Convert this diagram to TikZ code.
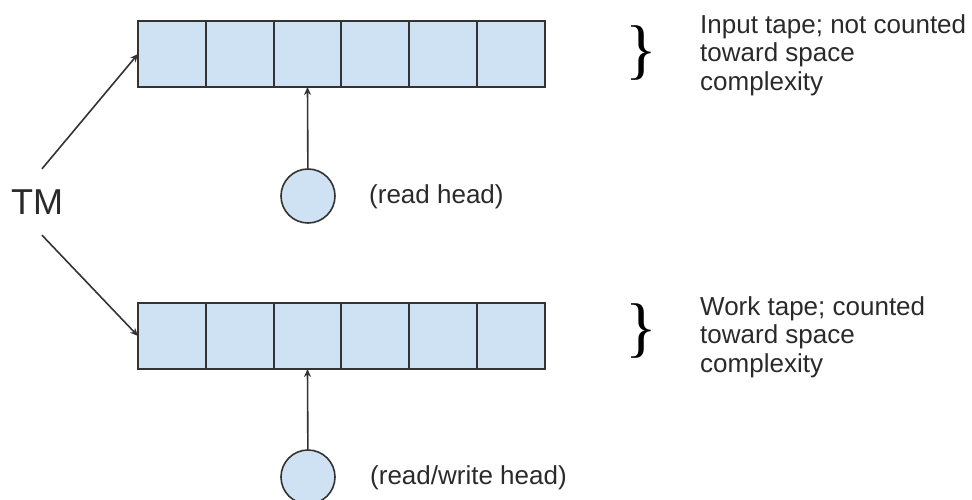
\documentclass[tikz,border=0pt]{standalone}
\usepackage{fontspec}
\setmainfont{Liberation Sans}
\newfontfamily\bracefont{Liberation Serif}
\usetikzlibrary{arrows.meta}
\definecolor{cellfill}{HTML}{CFE2F3}
\definecolor{ink}{HTML}{333333}
\definecolor{txt}{HTML}{2A2A2A}
\begin{document}
\begin{tikzpicture}[x=1pt,y=-1pt,
  cell/.style={draw=ink, line width=1.9pt, fill=cellfill, minimum width=67.8pt,
    minimum height=66pt, inner sep=0pt, outer sep=0pt, anchor=north west},
  headc/.style={circle, draw=ink, line width=1.6pt, fill=cellfill,
    minimum size=54pt, inner sep=0pt},
  link/.style={draw=ink, line width=1.6pt, -{Stealth[length=8pt,width=7pt]}},
  lbl/.style={font=\fontsize{26}{28.5}\selectfont, text=txt, inner sep=0pt},
  bracec/.style={font=\bracefont\fontsize{66}{66}\selectfont, inner sep=0pt, text=black}]
\useasboundingbox (0,0) rectangle (972,500);

% input tape (top) and work tape (bottom), six cells each
\foreach \i in {1,...,6} {
  \node[cell] (a\i) at ({138+(\i-1)*67.8},21) {};
  \node[cell] (b\i) at ({138+(\i-1)*67.8},303) {};
}

% heads
\node[headc] (h1) at (308,196) {};
\node[headc] (h2) at (308,477) {};
\draw[link] (h1) -- (a3.south);
\draw[link] (h2) -- (b3.south);
\node[lbl, anchor=west] (rl) at (369,197) {(read head)};
\node[lbl, anchor=west] (wl) at (370,478) {(read/write head)};

% the machine
\node[lbl, font=\fontsize{36}{36}\selectfont, minimum height=66pt] (tm) at (37,202) {TM};
\draw[link] ([xshift=5pt]tm.north) -- (a1.west);
\draw[link] ([xshift=5pt]tm.south) -- (b1.west);

% braces and descriptions
\node[bracec] (br1) at (641,53) {\}};
\node[bracec] (br2) at (641,331) {\}};
\node[lbl, anchor=north west, align=left] (d1) at (700,14)
  {Input tape; not counted\\toward space\\complexity};
\node[lbl, anchor=north west, align=left] (d2) at (700,296)
  {Work tape; counted\\toward space\\complexity};
\end{tikzpicture}
\end{document}
